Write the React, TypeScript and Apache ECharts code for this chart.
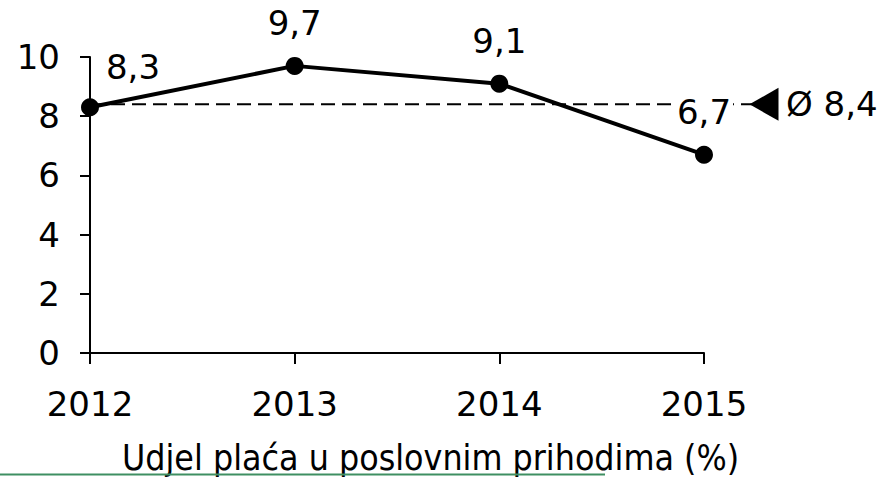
import React, { useEffect, useRef } from "react";
import * as echarts from "echarts";

const years = ["2012", "2013", "2014", "2015"];
const shares = [8.3, 9.7, 9.1, 6.7];
const average = 8.4;
const avgLineX = [0, 1];
const yTicks = { min: 0, max: 10, interval: 2 };
const axisTitle = "Udjel plaća u poslovnim prihodima (%)";
const fmt = (v: number) => String(v).replace(".", ",");

export default function App() {
  const ref = useRef<HTMLDivElement>(null);
  useEffect(() => {
    const chart = echarts.init(ref.current!, null, { renderer: "svg" });
    const font = "DejaVu Sans";
    chart.setOption({
      animation: false,
      backgroundColor: "#ffffff",
      textStyle: { fontFamily: font },
      grid: [
        { left: 90, right: 184, top: 57, bottom: 125 },
        { left: 90, right: 124, top: 57, bottom: 125 },
      ],
      xAxis: [
        {
          type: "category",
          gridIndex: 0,
          data: years,
          boundaryGap: false,
          axisLine: { lineStyle: { color: "#000", width: 2 } },
          axisTick: { show: true, length: 11, lineStyle: { color: "#000", width: 2 } },
          axisLabel: { color: "#000", fontSize: 34, margin: 34, fontFamily: font },
          splitLine: { show: false },
        },
        { type: "value", gridIndex: 1, min: 0, max: 1, show: false },
      ],
      yAxis: [
        {
          type: "value",
          gridIndex: 0,
          min: yTicks.min,
          max: yTicks.max,
          interval: yTicks.interval,
          axisLine: { show: true, lineStyle: { color: "#000", width: 2 } },
          axisTick: { show: true, length: 10, lineStyle: { color: "#000", width: 2 } },
          axisLabel: { color: "#000", fontSize: 34, margin: 30, fontFamily: font },
          splitLine: { show: false },
        },
        {
          type: "value",
          gridIndex: 1,
          min: yTicks.min,
          max: yTicks.max,
          show: false,
        },
      ],
      series: [
        {
          type: "line",
          xAxisIndex: 1,
          yAxisIndex: 1,
          data: avgLineX.map((x) => [x, average]),
          symbol: "none",
          z: 1,
          lineStyle: { color: "#000", width: 2, type: [14, 7] },
          endLabel: {
            show: true,
            distance: 22,
            formatter: "Ø " + fmt(average),
            color: "#000",
            fontSize: 34,
            fontFamily: font,
          },
          markPoint: {
            symbol: "triangle",
            symbolSize: [33, 29],
            symbolRotate: 90,
            itemStyle: { color: "#000" },
            label: { show: false },
            data: [{ coord: [avgLineX[1], average] }],
          },
          silent: true,
        },
        {
          type: "line",
          data: shares.map((v, i) =>
            i === 0 ? { value: v, label: { offset: [43, 3] } } : { value: v }
          ),
          symbol: "circle",
          symbolSize: 18,
          z: 3,
          itemStyle: { color: "#000" },
          lineStyle: { color: "#000", width: 4 },
          label: {
            show: true,
            position: "top",
            distance: 17,
            color: "#000",
            fontSize: 34,
            fontFamily: font,
            backgroundColor: "#fff",
            padding: [4, 2, 0, 2],
            formatter: (p: any) => fmt(p.value),
          },
        },
      ],
      graphic: [
        {
          type: "text",
          left: 122,
          top: 440,
          scaleX: 0.91,
          style: { text: axisTitle, fontSize: 35, fontFamily: font, fill: "#000" },
        },
        {
          type: "line",
          shape: { x1: 0, y1: 474.5, x2: 605, y2: 474.5 },
          style: { stroke: "#3f8f62", lineWidth: 2 },
        },
      ],
    });
    return () => chart.dispose();
  }, []);
  return (
    <div
      ref={ref}
      style={{ position: "fixed", left: 0, top: 0, width: 888, height: 478 }}
    />
  );
}
